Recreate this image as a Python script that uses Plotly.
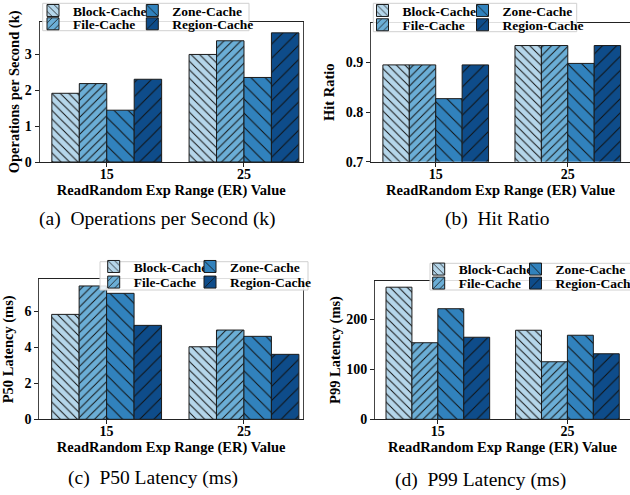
import plotly.graph_objects as go

# ---------------- data ----------------
categories = ["15", "25"]
series = ["Block-Cache", "File-Cache", "Zone-Cache", "Region-Cache"]

ops_block = [1.91, 2.99]
ops_file = [2.18, 3.37]
ops_zone = [1.44, 2.35]
ops_region = [2.30, 3.59]

hit_block = [0.895, 0.934]
hit_file = [0.895, 0.934]
hit_zone = [0.827, 0.898]
hit_region = [0.895, 0.934]

p50_block = [5.83, 4.03]
p50_file = [7.41, 4.96]
p50_zone = [7.00, 4.61]
p50_region = [5.22, 3.61]

p99_block = [264, 178]
p99_file = [153, 115]
p99_zone = [221, 168]
p99_region = [164, 131]

y_titles = ["Operations per Second (k)", "Hit Ratio", "P50 Latency (ms)", "P99 Latency (ms)"]
x_title = "ReadRandom Exp Range (ER) Value"
captions = ["(a)\u2002Operations per Second (k)", "(b)\u2002Hit Ratio",
            "(c)\u2002P50 Latency (ms)", "(d)\u2002P99 Latency (ms)"]

# ---------------- styles ----------------
W, H = 630, 495
colors = ["#b5d6ea", "#6baed6", "#3182bd", "#0e4c8a"]
hatches = [("\\", 6, 0.16), ("/", 6, 0.16), ("\\", 10, 0.1), ("/", 10, 0.1)]
SERIF = "Liberation Serif"


def px(x):
    return x / W


def py(y):
    return 1 - y / H


panels = [
    dict(values=[ops_block, ops_file, ops_zone, ops_region],
         xd=(39.5, 303), yd=(21.7, 162), xr=[-0.49, 1.43], yr=[0, 3.9], dtick=1,
         fmt="d", standoff=1, cap=(157, 219), cols=(53, 152.3), rows=(10.7, 24),
         frame=(42.7, 3.3, 249, 30.7), mirror=True),
    dict(values=[hit_block, hit_file, hit_zone, hit_region],
         xd=(371, 630), yd=(22.7, 161.7), xr=[-0.49, 1.471], yr=[0.7, 0.98], dtick=0.1,
         fmt=".1f", standoff=7, cap=(497.5, 219), cols=(382.5, 482.5), rows=(10.7, 25),
         frame=(373.3, 3.3, 576.7, 31.7), mirror=False),
    dict(values=[p50_block, p50_file, p50_zone, p50_region],
         xd=(39.3, 303), yd=(279.3, 419.3), xr=[-0.49, 1.43], yr=[0, 7.78], dtick=2,
         fmt="d", standoff=7, cap=(153, 478), cols=(113.7, 210), rows=(266.7, 282.3),
         frame=(100, 261.7, 308, 290), mirror=True),
    dict(values=[p99_block, p99_file, p99_zone, p99_region],
         xd=(375, 630), yd=(280.7, 419.3), xr=[-0.485, 1.483], yr=[0, 277], dtick=100,
         fmt="d", standoff=2, cap=(481, 480), cols=(438.7, 535.5), rows=(269.3, 283.3),
         frame=(430, 263.3, 640, 290), mirror=False),
]

fig = go.Figure()
layout = dict(
    width=W, height=H, template="none",
    margin=dict(l=0, r=0, t=0, b=0, autoexpand=False),
    paper_bgcolor="white", plot_bgcolor="white",
    barmode="group", bargap=0.2, bargroupgap=0,
    font=dict(family=SERIF, color="black"),
    showlegend=True,
)
shapes = []
annotations = []

legend_n = 0
for pi, p in enumerate(panels):
    sfx = "" if pi == 0 else str(pi + 1)
    xa, ya = "x" + sfx, "y" + sfx
    for si, name in enumerate(series):
        legend_n += 1
        lid = "legend" if legend_n == 1 else "legend%d" % legend_n
        shape, size, sol = hatches[si]
        fig.add_trace(go.Bar(
            x=categories, y=p["values"][si], name=name,
            xaxis=xa, yaxis=ya, legend=lid,
            marker=dict(color=colors[si], line=dict(color="#1a1a1a", width=1),
                        pattern=dict(shape=shape, size=size, solidity=sol,
                                     fgcolor="#111111", bgcolor=colors[si],
                                     fillmode="replace")),
        ))
        col = p["cols"][0] if si in (0, 1) else p["cols"][1]
        row = p["rows"][0] if si in (0, 2) else p["rows"][1]
        layout[lid] = dict(
            x=px(col - 20), y=py(row), xanchor="left", yanchor="middle",
            bgcolor="rgba(0,0,0,0)", borderwidth=0, itemwidth=30,
            font=dict(family=SERIF, size=13.5, color="black", weight="bold"),
        )
    layout["xaxis" + sfx] = dict(
        domain=[px(p["xd"][0]), px(p["xd"][1])], anchor=ya,
        type="category", categoryorder="array", categoryarray=categories,
        range=p["xr"], showgrid=False, zeroline=False,
        showline=True, linecolor="#222222", linewidth=1.3, mirror=True,
        ticks="outside", ticklen=4, tickwidth=1, tickcolor="#222222",
        ticklabelstandoff=-5,
        tickfont=dict(family=SERIF, size=14, color="black", weight="bold"),
        title=dict(text=x_title, standoff=2,
                   font=dict(family=SERIF, size=14.5, color="black", weight="bold")),
    )
    layout["yaxis" + sfx] = dict(
        domain=[py(p["yd"][1]), py(p["yd"][0])], anchor=xa,
        range=p["yr"], dtick=p["dtick"], tick0=p["yr"][0], tickformat=p["fmt"],
        showgrid=False, zeroline=False,
        showline=True, linecolor="#444444", linewidth=1, mirror=p["mirror"],
        ticks="outside", ticklen=4, tickwidth=1, tickcolor="#222222",
        tickfont=dict(family=SERIF, size=14, color="black", weight="bold"),
        title=dict(text=y_titles[pi], standoff=p["standoff"],
                   font=dict(family=SERIF, size=14.5, color="black", weight="bold")),
    )
    fx0, fy0, fx1, fy1 = p["frame"]
    shapes.append(dict(type="rect", xref="paper", yref="paper",
                       x0=px(fx0), x1=px(fx1), y0=py(fy1), y1=py(fy0),
                       fillcolor="rgba(255,255,255,0.85)",
                       line=dict(color="#d0d0d0", width=1), layer="above"))
    annotations.append(dict(xref="paper", yref="paper", x=px(p["cap"][0]), y=py(p["cap"][1]),
                            text=captions[pi], showarrow=False, xanchor="center",
                            yanchor="middle",
                            font=dict(family=SERIF, size=19.5, color="black")))

layout["shapes"] = shapes
layout["annotations"] = annotations
fig.update_layout(**layout)
fig.write_html("out.html", config={"displayModeBar": False},
               post_script="document.body.style.margin='0';document.body.style.overflow='hidden';")
